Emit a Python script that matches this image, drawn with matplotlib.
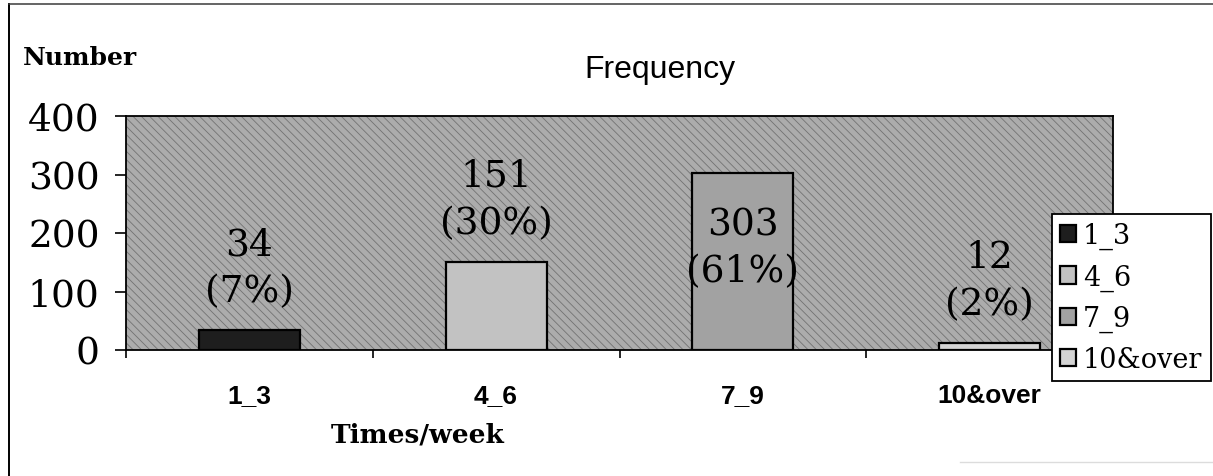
import matplotlib
matplotlib.use("Agg")
import matplotlib.pyplot as plt
from matplotlib.patches import Rectangle
from matplotlib.lines import Line2D
from matplotlib.ticker import FixedLocator

# === DATA ===
categories = ["1_3", "4_6", "7_9", "10&over"]
counts = [34, 151, 303, 12]
percents = [7, 30, 61, 2]
y_ticks = [0, 100, 200, 300, 400]

# bar fills (greyscale, like the printed original)
bar_colors = ["#1e1e1e", "#c2c2c2", "#a2a2a2", "#d4d4d4"]

SERIF = "DejaVu Serif"
SANS = "Liberation Sans"
plt.rcParams["hatch.linewidth"] = 0.6

W, H = 1213, 477
fig = plt.figure(figsize=(W / 100, H / 100), dpi=100)

# plot area in pixel terms -> figure fractions
left, right, top, bottom = 126, 1113, 117, 351
ax = fig.add_axes([left / W, 1 - bottom / H, (right - left) / W, (bottom - top) / H])

# shaded plot background
ax.set_facecolor("#acacac")
ax.add_patch(Rectangle((0, 0), 1, 1, transform=ax.transAxes, facecolor="none",
                       edgecolor="#727272", hatch="\\\\\\\\", lw=0, zorder=0))

x = list(range(len(categories)))
bars = ax.bar(x, counts, width=0.41, color=bar_colors, edgecolor="black",
              linewidth=1.6, zorder=2)

ax.set_xlim(-0.5, len(categories) - 0.5)
ax.set_ylim(y_ticks[0], y_ticks[-1])

# value labels: above the bar, or inside it when there is no room on top
label_room = 150
for xi, v, p in zip(x, counts, percents):
    txt = f"{v}\n({p}%)"
    if v + label_room > y_ticks[-1]:
        ax.annotate(txt, (xi, v), xytext=(0, -24), textcoords="offset points",
                    ha="center", va="top", fontsize=27, family=SERIF,
                    linespacing=1.4, zorder=3)
    else:
        ax.annotate(txt, (xi, v), xytext=(0, 15), textcoords="offset points",
                    ha="center", va="bottom", fontsize=27, family=SERIF,
                    linespacing=1.4, zorder=3)

# axes styling
for s in ax.spines.values():
    s.set_color("black")
    s.set_linewidth(1.3)
    s.set_zorder(4)

ax.set_yticks(y_ticks)
ax.set_yticklabels([str(t) for t in y_ticks], fontsize=27, family=SERIF)
ax.tick_params(axis="y", direction="out", length=8, width=1.2, pad=11)

ax.set_xticks(x)
ax.set_xticklabels(categories, fontsize=19, family=SANS, fontweight="bold")
ax.xaxis.set_minor_locator(FixedLocator([i - 0.5 for i in range(len(categories) + 1)]))
ax.tick_params(axis="x", which="major", length=0, pad=24)
ax.tick_params(axis="x", which="minor", direction="out", length=6, width=1.2)

# titles
fig.text(660 / W, 1 - 78 / H, "Frequency", ha="center", va="baseline",
         fontsize=23, family=SANS)
fig.text(23 / W, 1 - 65 / H, "Number", ha="left", va="baseline",
         fontsize=18, family=SERIF, fontweight="bold")
fig.text(418 / W, 1 - 443 / H, "Times/week", ha="center", va="baseline",
         fontsize=19, family=SERIF, fontweight="bold")

# legend (one entry per category)
leg = ax.legend(bars.patches, categories, loc="upper left",
                bbox_to_anchor=(1052 / W, 1 - 215 / H), bbox_transform=fig.transFigure,
                prop={"family": SERIF, "size": 19.5}, frameon=True, fancybox=False,
                edgecolor="black", framealpha=1, handlelength=0.6, handleheight=0.6,
                handletextpad=0.25, labelspacing=0.52, borderpad=0.3, borderaxespad=0)
leg.get_frame().set_linewidth(1.3)

# outer chart frame
fig.add_artist(Line2D([9 / W, 9 / W], [0, 1 - 5 / H], transform=fig.transFigure,
                      color="black", lw=1.4))
fig.add_artist(Line2D([9 / W, 1], [1 - 5 / H, 1 - 5 / H], transform=fig.transFigure,
                      color="#3a3a3a", lw=1.1))
fig.add_artist(Line2D([960 / W, 1], [1 - 463 / H, 1 - 463 / H], transform=fig.transFigure,
                      color="#dcdcdc", lw=1.0))

fig.savefig("out.png", dpi=100)
